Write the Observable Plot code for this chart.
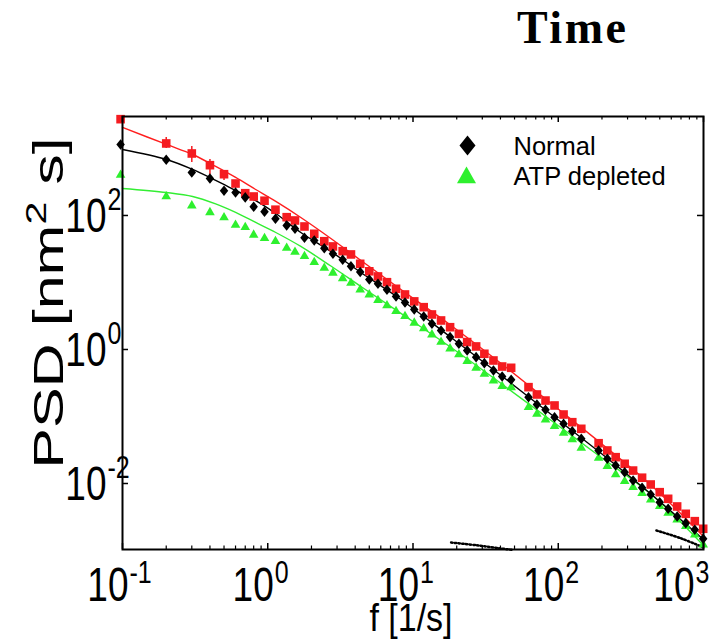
<!DOCTYPE html>
<html><head><meta charset="utf-8">
<script src="https://cdn.jsdelivr.net/npm/d3@7"></script>
<script src="https://cdn.jsdelivr.net/npm/@observablehq/plot@0.6"></script>
<style>
html,body{margin:0;padding:0;background:#fff;}
#wrap{position:relative;width:711px;height:639px;overflow:hidden;}
#title{position:absolute;left:517px;top:5px;font:bold 46px "Liberation Serif","Times New Roman",serif;letter-spacing:2.5px;line-height:1;color:#000;white-space:nowrap;}
</style></head><body>
<div id="wrap"><div id="title">Time</div></div>
<script>
// ---- data ----
const freq = [0.097, 0.2, 0.3, 0.4, 0.5, 0.6, 0.7, 0.8, 0.95,
  1.13, 1.35, 1.54, 1.79, 2.09, 2.45, 2.81, 3.28, 3.74, 4.33,
  5.0, 5.74, 6.62, 7.64, 8.81, 10.2, 11.85, 13.5, 15.6, 18.0,
  20.7, 23.6, 27.2, 31.0, 35.8, 41.1, 47.4,
  62.4, 71.3, 81.7, 94.3, 108.8, 124.9, 144.1,
  189.6, 217.7, 248.5, 286.6, 327.5, 377.7, 433.2, 499.5, 571, 658.5, 755, 871, 995];
const normalPSD = [1148, 678, 438, 357, 234, 220, 186, 135, 114,
  89.3, 70.9, 63.3, 46.5, 42.4, 32.5, 26.8, 21.8, 17.5, 14.3,
  11.1, 9.57, 7.78, 6.18, 5.03, 3.95, 3.11, 2.42, 1.92, 1.53,
  1.22, 0.966, 0.768, 0.625, 0.486, 0.395, 0.353,
  0.194, 0.151, 0.126, 0.0976, 0.0778, 0.0603, 0.0465,
  0.0311, 0.0234, 0.0186, 0.01475, 0.01108, 0.00863, 0.00685, 0.00526, 0.00419, 0.00322, 0.00256, 0.00204, 0.00150];
const redPSD = [2737, 1188, 842, 563, 413, 300, 215, 192, 166,
  122, 94.3, 84.2, 68.5, 53.3, 41.3, 34.5, 29.3, 26.2, 19.0,
  14.7, 12.3, 10.1, 8.05, 6.62, 5.22, 4.28, 3.33, 2.71, 2.15,
  1.71, 1.29, 1.11, 0.863, 0.685, 0.557, 0.533,
  0.274, 0.213, 0.173, 0.146, 0.107, 0.0822, 0.0655,
  0.0399, 0.0311, 0.0247, 0.0197, 0.0156, 0.0122, 0.00966, 0.00742, 0.00591, 0.00454, 0.00353, 0.00274, 0.00211];
const atpPSD = [413, 197, 144, 114, 95.7, 74.1, 68.5, 52.6, 46.9,
  42.4, 33.6, 29.3, 25.3, 20.6, 16.9, 14.3, 11.8, 10.1, 8.05,
  6.78, 5.57, 4.65, 3.82, 3.22, 2.56, 2.11, 1.71, 1.33, 1.06,
  0.863, 0.685, 0.545, 0.443, 0.353, 0.290, 0.280,
  0.141, 0.112, 0.0924, 0.0734, 0.0583, 0.0465, 0.0348,
  0.0247, 0.0186, 0.0140, 0.0111, 0.00902, 0.00734, 0.00587, 0.00470, 0.00373, 0.00297, 0.00236, 0.00177, 0.00126];

// fitted curves
const fitFreq = [0.1, 0.201, 0.304, 0.438, 0.601, 0.826, 1.136, 1.689, 2.72, 4.38, 8.26, 18.29, 40.45, 89.5, 198, 438, 1000];
const normalFit = [966, 685, 486, 333, 236, 167, 107, 55.7, 29.0, 14.1, 5.57, 1.51, 0.409, 0.107, 0.0280, 0.00685, 0.00146];
const redFit = [2058, 1148, 813, 539, 369, 244, 162, 93.3, 45.4, 21.3, 7.86, 2.28, 0.618, 0.156, 0.0395, 0.00934, 0.00162];
const atpFit = [253, 220, 192, 148.5, 111, 78.6, 55.7, 34.5, 17.6, 8.72, 3.45, 1.07, 0.311, 0.0872, 0.0244, 0.00685, 0.00119];

// error bars on the red series
const errFreq = [0.2, 0.3, 0.4, 0.5];
const errLo = [1000, 618, 409, 333];
const errHi = [1459, 1071, 685, 454];

// dotted curves near the bottom
const noiseAFreq = [18.29, 28.1, 40.45, 48.95];
const noiseA = [0.001316, 0.001189, 0.001071, 0.001017];
const noiseBFreq = [474, 705, 1000];
const noiseB = [0.00199, 0.00151, 0.00111];

// axes
const xTickValues = [0.1, 1, 10, 100, 1000];
const xTickExp = ["-1", "0", "1", "2", "3"];
const yTickValues = [0.01, 1, 100];
const yTickExp = ["-2", "0", "2"];
const legendLabels = ["Normal", "ATP depleted"];

// ---- build tables ----
const pts = freq.map((f, i) => ({f, normal: normalPSD[i], red: redPSD[i], atp: atpPSD[i]}));
const fit = fitFreq.map((f, i) => ({f, normal: normalFit[i], red: redFit[i], atp: atpFit[i]}));
const err = errFreq.map((f, i) => ({f, lo: errLo[i], hi: errHi[i]}));
const nA = noiseAFreq.map((f, i) => ({f, p: noiseA[i]}));
const nB = noiseBFreq.map((f, i) => ({f, p: noiseB[i]}));
const xt = xTickValues.map((v, i) => ({v, e: xTickExp[i]}));
const yt = yTickValues.map((v, i) => ({v, e: yTickExp[i]}));
const xMinor = [];
for (const d of [0.1, 1, 10, 100]) for (let k = 2; k <= 9; k++) xMinor.push(d * k);

// custom symbols (r = half size)
const square = {draw(c, s) { const h = Math.sqrt(s / Math.PI); c.rect(-h, -h, 2 * h, 2 * h); }};
const diamond = {draw(c, s) { const h = Math.sqrt(s / Math.PI), w = h * 0.8; c.moveTo(0, -h); c.lineTo(w, 0); c.lineTo(0, h); c.lineTo(-w, 0); c.closePath(); }};
const triangle = {draw(c, s) { const h = Math.sqrt(s / Math.PI); c.moveTo(0, -h); c.lineTo(h, h * 0.75); c.lineTo(-h, h * 0.75); c.closePath(); }};

const RED = "#f51b20", GREEN = "#2ef02e";
const W = 711, H = 639, mL = 122, mR = 8, mT = 116, mB = 90;
const plotW = W - mL - mR, plotH = H - mT - mB;
const FS_BIG = 37, FS_SUP = 25, FS_XL = 34, FS_LEG = 25.5;

const chart = Plot.plot({
  width: W, height: H,
  marginLeft: mL, marginRight: mR, marginTop: mT, marginBottom: mB,
  style: {fontFamily: "'Liberation Sans', Arial, sans-serif", background: "white", color: "black"},
  x: {type: "log", domain: [0.1, 1000], axis: null},
  y: {type: "log", domain: [1.035e-3, 3.0e3], axis: null},
  marks: [
    // fitted curves
    Plot.line(fit, {x: "f", y: "red", stroke: "#ff1e1e", strokeWidth: 1.4, curve: "catmull-rom"}),
    Plot.line(fit, {x: "f", y: "atp", stroke: "#33ee33", strokeWidth: 1.4, curve: "catmull-rom"}),
    Plot.line(fit, {x: "f", y: "normal", stroke: "black", strokeWidth: 1.4, curve: "catmull-rom"}),
    // dotted curves
    Plot.line(nA, {x: "f", y: "p", stroke: "black", strokeWidth: 2.5, strokeDasharray: "1.5,2.2", curve: "catmull-rom"}),
    Plot.line(nB, {x: "f", y: "p", stroke: "black", strokeWidth: 2.5, strokeDasharray: "1.5,2.2", curve: "catmull-rom"}),
    // error bars
    Plot.ruleX(err, {x: "f", y1: "lo", y2: "hi", stroke: RED, strokeWidth: 1.5}),
    // points
    Plot.dot(pts, {x: "f", y: "red", symbol: square, r: 4.3, fill: RED}),
    Plot.dot(pts, {x: "f", y: "atp", symbol: triangle, r: 4.8, fill: GREEN}),
    Plot.dot(pts, {x: "f", y: "normal", symbol: diamond, r: 5.3, fill: "black"}),
    // frame and ticks
    Plot.frame({stroke: "black", strokeWidth: 2}),
    Plot.ruleX(xTickValues, {x: d => d, insetTop: plotH - 6, stroke: "black", strokeWidth: 1.5}),
    Plot.ruleX(xTickValues, {x: d => d, insetBottom: plotH - 6, stroke: "black", strokeWidth: 1.5}),
    Plot.ruleX(xMinor, {x: d => d, insetTop: plotH - 3.5, stroke: "black", strokeWidth: 1.2}),
    Plot.ruleX(xMinor, {x: d => d, insetBottom: plotH - 3.5, stroke: "black", strokeWidth: 1.2}),
    Plot.ruleY(yTickValues, {y: d => d, insetRight: plotW - 6, stroke: "black", strokeWidth: 1.5}),
    Plot.ruleY(yTickValues, {y: d => d, insetLeft: plotW - 6, stroke: "black", strokeWidth: 1.5}),
    // x tick labels
    Plot.text(xt.slice(0, 4), {x: "v", text: () => "10", frameAnchor: "bottom", textAnchor: "end", lineAnchor: "bottom", dx: 6, dy: 51, fontSize: FS_BIG}),
    Plot.text(xt.slice(0, 4), {x: "v", text: "e", frameAnchor: "bottom", textAnchor: "start", lineAnchor: "bottom", dx: 7, dy: 33, fontSize: FS_SUP}),
    Plot.text(xt.slice(4), {x: "v", text: () => "10", frameAnchor: "bottom", textAnchor: "end", lineAnchor: "bottom", dx: -9, dy: 51, fontSize: FS_BIG}),
    Plot.text(xt.slice(4), {x: "v", text: "e", frameAnchor: "bottom", textAnchor: "start", lineAnchor: "bottom", dx: -8, dy: 33, fontSize: FS_SUP}),
    // y tick labels
    Plot.text(yt, {y: "v", text: () => "10", frameAnchor: "left", textAnchor: "end", lineAnchor: "bottom", dx: -16, dy: 17, fontSize: FS_BIG}),
    Plot.text(yt, {y: "v", text: "e", frameAnchor: "left", textAnchor: "start", lineAnchor: "bottom", dx: -15, dy: -5, fontSize: FS_SUP}),
    // x axis label
    Plot.text(["f [1/s]"], {frameAnchor: "bottom", lineAnchor: "bottom", dx: -2, dy: 81, fontSize: FS_XL}),
    // legend
    Plot.dot([legendLabels[0]], {frameAnchor: "top-left", dx: 345, dy: 29, symbol: diamond, r: 10, fill: "black"}),
    Plot.dot([legendLabels[1]], {frameAnchor: "top-left", dx: 344, dy: 59.5, symbol: triangle, r: 9.5, fill: GREEN}),
    Plot.text([legendLabels[0]], {frameAnchor: "top-left", text: d => d, textAnchor: "start", lineAnchor: "bottom", dx: 391, dy: 38, fontSize: FS_LEG}),
    Plot.text([legendLabels[1]], {frameAnchor: "top-left", text: d => d, textAnchor: "start", lineAnchor: "bottom", dx: 391, dy: 68, fontSize: FS_LEG})
  ]
});

// tall, narrow axis lettering as in the original export
chart.querySelectorAll("text").forEach(t => {
  const g = t.closest("[font-size]");
  const fs = g ? +g.getAttribute("font-size") : 0;
  if (fs === FS_LEG) return;
  const sy = fs === FS_XL ? 1.15 : 1.28;
  const tr = t.getAttribute("transform") || "";
  t.setAttribute("transform", tr + ` scale(1,${sy})`);
});

// y axis label with superscript
const yl = d3.select(chart).append("text")
  .attr("transform", "translate(63,303) rotate(-90) scale(1.42,1)")
  .attr("text-anchor", "middle")
  .attr("font-size", 43)
  .attr("font-family", "'Liberation Sans', Arial, sans-serif")
  .attr("fill", "black");
yl.append("tspan").text("PSD [nm");
yl.append("tspan").attr("font-size", 29).attr("dy", -17).text("2");
yl.append("tspan").attr("dy", 17).text(" s]");

const wrap = document.getElementById("wrap");
wrap.insertBefore(chart, wrap.firstChild);
</script>
</body></html>
